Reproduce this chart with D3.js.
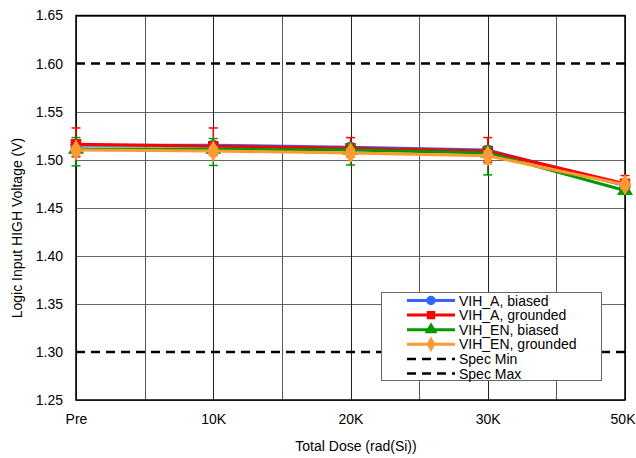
<!DOCTYPE html>
<html><head><meta charset="utf-8">
<script src="https://cdnjs.cloudflare.com/ajax/libs/d3/7.8.5/d3.min.js"></script>
<style>
body{margin:0;background:#fff;}
svg{display:block;font-family:"Liberation Sans",Arial,sans-serif;}
</style></head>
<body><svg id="c" width="636" height="458"></svg>
<script>
const categories = ["Pre","10K","20K","30K","50K"];
const yTicks = [1.25,1.30,1.35,1.40,1.45,1.50,1.55,1.60,1.65];
const yTickLabels = ["1.25","1.30","1.35","1.40","1.45","1.50","1.55","1.60","1.65"];

const vihABiased = [1.515,1.515,1.513,1.510,1.473];
const vihABiasedLo = [1.512,1.512,1.510,1.507,1.470];
const vihABiasedHi = [1.518,1.518,1.516,1.513,1.476];

const vihAGrounded = [1.516,1.514,1.512,1.509,1.475];
const vihAGroundedLo = [1.503,1.505,1.503,1.4975,1.468];
const vihAGroundedHi = [1.533,1.533,1.523,1.523,1.4835];

const vihENBiased = [1.511,1.511,1.510,1.507,1.468];
const vihENBiasedLo = [1.4936,1.494,1.4945,1.4842,1.464];
const vihENBiasedHi = [1.523,1.522,1.516,1.513,1.472];

const vihENGrounded = [1.510,1.509,1.507,1.504,1.474];
const vihENGroundedLo = [1.505,1.504,1.503,1.4955,1.470];
const vihENGroundedHi = [1.514,1.513,1.511,1.509,1.478];

const specMin = 1.30;
const specMax = 1.60;

const seriesNames = ["VIH_A, biased","VIH_A, grounded","VIH_EN, biased","VIH_EN, grounded"];
const seriesColors = ["#3366FF","#FF0000","#009900","#FF9933"];
const seriesSymbols = [d3.symbolCircle,d3.symbolSquare,d3.symbolTriangle,d3.symbolDiamond];
const seriesValues = [vihABiased,vihAGrounded,vihENBiased,vihENGrounded];
const seriesLo = [vihABiasedLo,vihAGroundedLo,vihENBiasedLo,vihENGroundedLo];
const seriesHi = [vihABiasedHi,vihAGroundedHi,vihENBiasedHi,vihENGroundedHi];

const svg = d3.select("#c");
const L=76, R=625, T=15.5, B=400;
const x = d3.scalePoint().domain(categories).range([L,R]);
const xi = d3.scaleLinear().domain([0,categories.length-1]).range([L,R]);
const y = d3.scaleLinear().domain([1.25,1.65]).range([B,T]);

// gridlines
const g = svg.append("g");
g.selectAll("line.h").data(yTicks).join("line")
  .attr("x1",L).attr("x2",R).attr("y1",d=>Math.round(y(d))+0.5).attr("y2",d=>Math.round(y(d))+0.5)
  .attr("stroke",d=>(d===specMin||d===specMax)?"none":"#666").attr("stroke-width",1);
const vgrid = d3.range(0,categories.length-1+0.01,0.5);
g.selectAll("line.v").data(vgrid).join("line")
  .attr("y1",T).attr("y2",B).attr("x1",d=>Math.round(xi(d))+0.5).attr("x2",d=>Math.round(xi(d))+0.5)
  .attr("stroke",(d,i)=>i%2?"#555":"#222").attr("stroke-width",1);

// spec lines
[specMin,specMax].forEach(v=>{
  svg.append("line").attr("x1",L).attr("x2",R).attr("y1",y(v)).attr("y2",y(v))
    .attr("stroke","#000").attr("stroke-width",2.5).attr("stroke-dasharray","9,6");
});

// frame
svg.append("rect").attr("x",L).attr("y",T).attr("width",R-L).attr("height",B-T)
  .attr("fill","none").attr("stroke","#000").attr("stroke-width",1.5);

// axes
const yAxis = d3.axisLeft(y).tickValues(yTicks).tickFormat((d,i)=>yTickLabels[i]).tickSize(0).tickPadding(13);
const ya = svg.append("g").attr("transform",`translate(${L},0)`).call(yAxis);
ya.select(".domain").remove();
ya.selectAll("text").attr("font-size",14).attr("fill","#000").attr("font-family","Liberation Sans, Arial, sans-serif");

const xAxis = d3.axisBottom(x).tickSize(0).tickPadding(14);
const xa = svg.append("g").attr("transform",`translate(0,${B})`).call(xAxis);
xa.select(".domain").remove();
xa.selectAll("text").attr("font-size",14).attr("fill","#000").attr("font-family","Liberation Sans, Arial, sans-serif");
// keep the last label inside the canvas
xa.selectAll("text").filter(d=>d===categories[categories.length-1]).attr("text-anchor","end").attr("dx",10);

svg.append("text").attr("x",356).attr("y",451).attr("text-anchor","middle").attr("font-size",14).text("Total Dose (rad(Si))");
svg.append("text").attr("transform","translate(22,228) rotate(-90)").attr("text-anchor","middle").attr("font-size",14).text("Logic Input HIGH Voltage (V)");

// series
const line = d3.line().x((d,i)=>x(categories[i])).y(d=>y(d));
const symSizes = [100,110,110,130];
seriesValues.forEach((vals,s)=>{
  const sg = svg.append("g");
  const col = seriesColors[s];
  categories.forEach((c,i)=>{
    const cx = x(c);
    sg.append("line").attr("x1",cx).attr("x2",cx).attr("y1",y(seriesLo[s][i])).attr("y2",y(seriesHi[s][i])).attr("stroke",col).attr("stroke-width",1.5);
    [seriesLo[s][i],seriesHi[s][i]].forEach(v=>{
      sg.append("line").attr("x1",cx-4.5).attr("x2",cx+4.5).attr("y1",y(v)).attr("y2",y(v)).attr("stroke",col).attr("stroke-width",1.5);
    });
  });
  sg.append("path").datum(vals).attr("d",line).attr("fill","none").attr("stroke",col).attr("stroke-width",3);
  sg.selectAll("path.m").data(vals).join("path")
    .attr("transform",(d,i)=>`translate(${x(categories[i])},${y(d)})`)
    .attr("d",d3.symbol().type(seriesSymbols[s]).size(symSizes[s])).attr("fill",col);
});

// legend
const legX=381.5, legY=292.5, legW=220, legH=88;
const lg = svg.append("g");
lg.append("rect").attr("x",legX).attr("y",legY).attr("width",legW).attr("height",legH).attr("fill","#fff").attr("stroke","#666").attr("stroke-width",1);
const legItems = seriesNames.map((n,i)=>({name:n,color:seriesColors[i],sym:seriesSymbols[i],dash:null}))
  .concat([{name:"Spec Min",color:"#000",sym:null,dash:"9,6"},{name:"Spec Max",color:"#000",sym:null,dash:"9,6"}]);
legItems.forEach((it,i)=>{
  const yy = legY+8+i*14.6;
  lg.append("line").attr("x1",407).attr("x2",455).attr("y1",yy).attr("y2",yy)
    .attr("stroke",it.color).attr("stroke-width",it.dash?2.5:3).attr("stroke-dasharray",it.dash);
  if(it.sym) lg.append("path").attr("transform",`translate(431,${yy})`).attr("d",d3.symbol().type(it.sym).size(70)).attr("fill",it.color);
  lg.append("text").attr("x",459).attr("y",yy+5).attr("font-size",14).text(it.name);
});
</script></body></html>
